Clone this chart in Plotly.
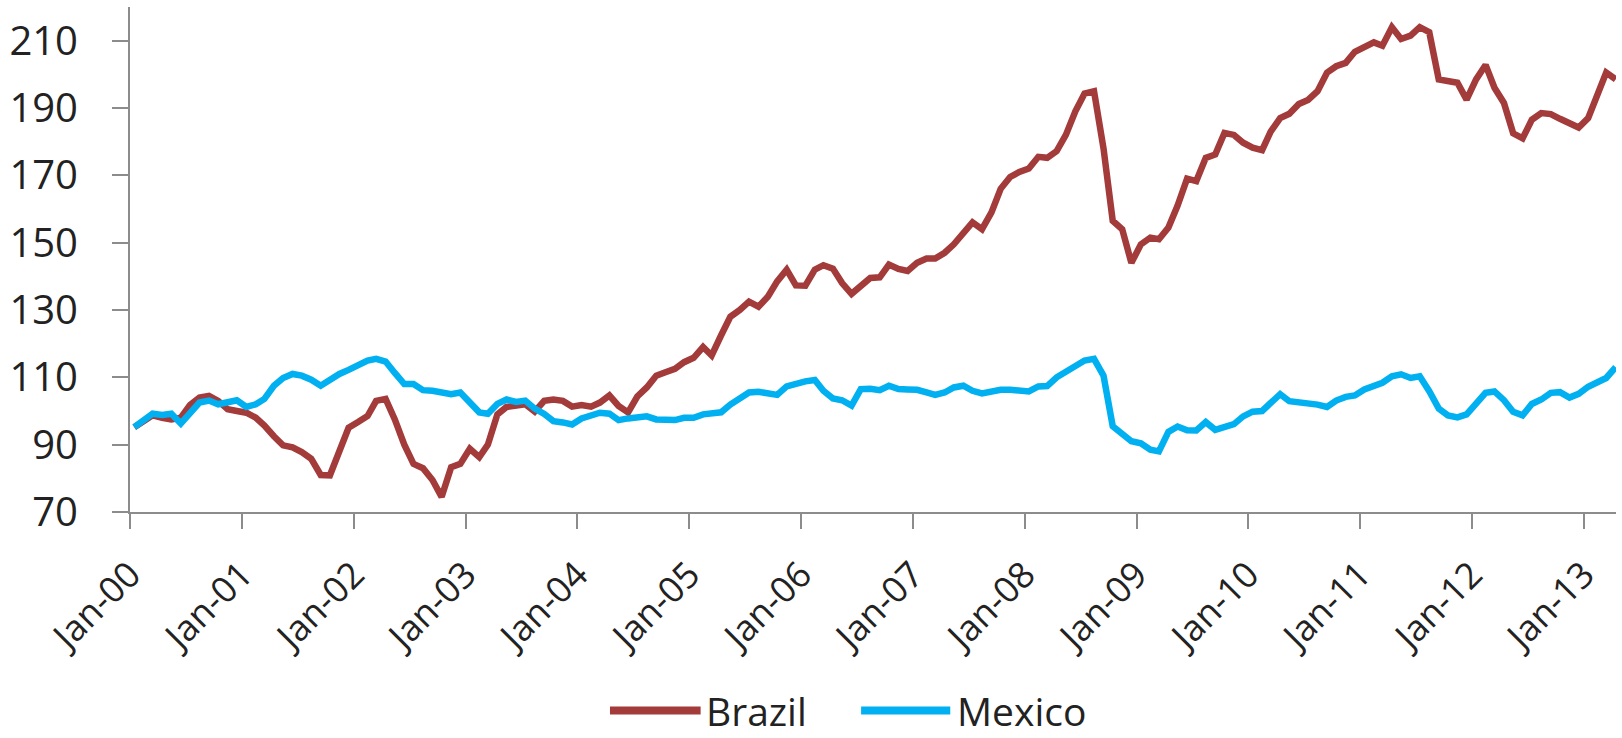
import plotly.graph_objects as go

# ---- data (monthly, Jan-2000 .. Apr-2013) ----
months = [f"{2000 + i // 12}-{i % 12 + 1:02d}-15" for i in range(160)]

brazil = [
    95.2, 97, 98.7, 98, 97.5, 98, 101.8, 104, 104.5, 103, 100.5, 100,
    99.5, 98, 95.7, 92.5, 89.8, 89.2, 87.8, 85.8, 81, 80.9, 88, 95,
    96.7, 98.5, 103, 103.6, 97.5, 90, 84.3, 83, 79.5, 74.5, 83.3, 84.3,
    88.8, 86.3, 90, 99, 101.2, 101.6, 102, 99.8, 103, 103.4, 103, 101.3,
    101.8, 101.3, 102.5, 104.6, 101.5, 99.6, 104.3, 107, 110.5, 111.5, 112.5, 114.5,
    115.8, 119, 116.5, 122.5, 128, 130, 132.5, 131, 134, 138.5, 142, 137.3,
    137.2, 142, 143.3, 142.3, 138, 134.8, 137, 139.5, 139.7, 143.5, 142.2, 141.6,
    144, 145.3, 145.3, 147, 149.5, 153, 156, 154, 159, 166, 169.5, 171,
    172, 175.5, 175.2, 177.2, 182, 189, 194.3, 195, 178, 156.5, 154, 144,
    149.5, 151.5, 151, 154.5, 161, 169, 168.3, 175.2, 176.2, 182.6, 182, 179.7,
    178.2, 177.5, 183, 187, 188.3, 191.2, 192.4, 195, 200.5, 202.4, 203.4, 206.7,
    208.3, 209.5, 208.5, 214, 210.5, 211.5, 214, 212.5, 198.5, 197.8, 197.5, 192.5,
    198.5, 202.8, 196, 191.5, 182.5, 181, 186.5, 188.5, 188.2, 186.8, 185.2, 184.2,
    187, 194.8, 200.5, 198.5,
]

mexico = [
    95.2, 97.3, 99.2, 98.8, 99.2, 96.3, 99.5, 102.5, 103.1, 102, 102.6, 103.2,
    101.2, 102, 103.6, 107.5, 109.8, 111, 110.5, 109.3, 107.5, 109.5, 111, 112.2,
    113.5, 115, 115.5, 114.7, 111.3, 108, 108, 106.2, 106, 105.7, 105, 105.5,
    102.4, 99.6, 99.2, 102.1, 103.4, 102.7, 103.1, 100.7, 99.1, 97, 96.6, 96,
    97.8, 98.7, 99.5, 99.2, 97.3, 97.8, 97.9, 98.4, 97.5, 97.5, 97.3, 98,
    98, 99, 99.4, 99.6, 101.9, 103.5, 105.5, 105.7, 105.2, 104.8, 107.3, 108.2,
    108.8, 109.2, 106, 103.7, 103.2, 101.6, 106.5, 106.6, 106.2, 107.5, 106.5, 106.4,
    106.3, 105.5, 104.8, 105.5, 107, 107.5, 106, 105.2, 105.8, 106.3, 106.3, 105.9,
    105.8, 107.3, 107.4, 110, 111.6, 113.5, 115, 115.5, 110.5, 95.5, 93.5, 91,
    90.4, 88.5, 88, 93.8, 95.4, 94.3, 94.2, 96.7, 94.4, 95.4, 96.1, 98.4,
    99.8, 100, 102.2, 105, 102.9, 102.6, 102, 101.9, 101.2, 103.1, 104.2, 104.6,
    106.4, 107.6, 108.4, 110.3, 110.9, 109.8, 110.3, 105.9, 100.7, 98.7, 98.1, 99,
    102.1, 105.4, 105.8, 103.2, 99.8, 98.7, 102.1, 103.4, 105.4, 105.6, 104, 105.1,
    107.2, 108.3, 109.8, 113,
]

year_ticks = [f"{y}-01-01" for y in range(2000, 2014)]
year_labels = [f"Jan-{y % 100:02d}" for y in range(2000, 2014)]
y_ticks = [70, 90, 110, 130, 150, 170, 190, 210]

series_names = ["Brazil", "Mexico"]
colors = ["#A23B3A", "#00B0F0"]

FONT = "Open Sans"
AXIS_GRAY = "#8C8C8C"
TXT = "#222222"

fig = go.Figure()
for name, vals, col in zip(series_names, [brazil, mexico], colors):
    fig.add_trace(go.Scatter(
        x=months, y=vals, mode="lines", name=name,
        line=dict(color=col, width=6.5),
        showlegend=False,
    ))

# custom legend (long line samples like the original)
legend_items = [
    (0.323, 0.384, 0.3863),
    (0.492, 0.552, 0.5552),
]
ly = -0.393
for (x0, x1, xt), name, col in zip(legend_items, series_names, colors):
    fig.add_shape(type="line", xref="paper", yref="paper",
                  x0=x0, x1=x1, y0=ly, y1=ly,
                  line=dict(color=col, width=8))
    fig.add_annotation(xref="paper", yref="paper", x=xt, y=ly,
                       text=name, showarrow=False, xanchor="left",
                       yanchor="middle",
                       font=dict(family=FONT, size=39, color=TXT))

fig.update_layout(
    width=1622, height=738,
    margin=dict(l=130, r=6, t=7, b=226),
    paper_bgcolor="white", plot_bgcolor="white",
    font=dict(family=FONT, size=40, color=TXT),
)
fig.update_xaxes(
    type="date",
    range=["2000-01-01", "2013-04-16"],
    tickvals=year_ticks, ticktext=year_labels,
    tickangle=-45,
    automargin=False,
    showgrid=False, zeroline=False,
    showline=True, linecolor=AXIS_GRAY, linewidth=2,
    ticks="outside", ticklen=15, tickwidth=2, tickcolor=AXIS_GRAY,
    ticklabelstandoff=10,
    tickfont=dict(family=FONT, size=36, color=TXT),
)
fig.update_yaxes(
    range=[70, 220],
    tickvals=y_ticks,
    automargin=False,
    showgrid=False, zeroline=False,
    showline=True, linecolor=AXIS_GRAY, linewidth=2,
    ticks="outside", ticklen=16, tickwidth=2, tickcolor=AXIS_GRAY,
    ticklabelstandoff=26,
    tickfont=dict(family=FONT, size=40, color=TXT),
)

fig.write_html(
    "out.html",
    config={"displayModeBar": False},
    post_script="document.body.style.margin='0';document.body.style.overflow='hidden';",
)
